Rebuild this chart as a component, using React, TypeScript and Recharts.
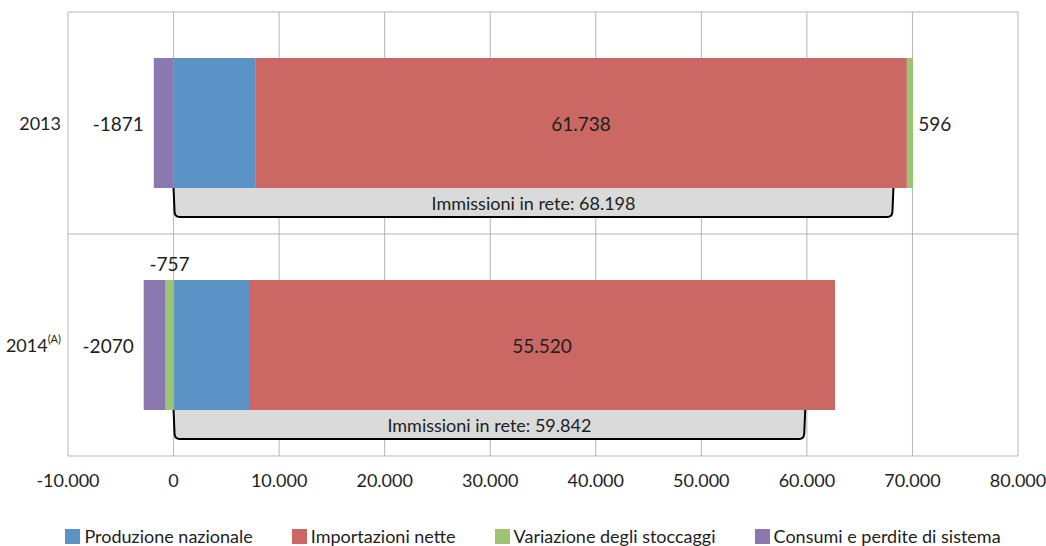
import { BarChart, Bar, XAxis, YAxis, CartesianGrid, LabelList } from "recharts";

// Bilancio gas: valori in milioni di m3
const categories = ["2013", "2014"];
const categoryNotes = ["", "(A)"];
const produzione = [7735, 7149];
const importazioni = [61738, 55520];
const stoccaggi = [596, -757];
const consumi = [-1871, -2070];
const immissioni = [68198, 59842];
const xTicks = [-10000, 0, 10000, 20000, 30000, 40000, 50000, 60000, 70000, 80000];

const series = [
    { key: "produzione", name: "Produzione nazionale", color: "#5b93c6" },
    { key: "importazioni", name: "Importazioni nette", color: "#cb6863" },
    { key: "stoccaggi", name: "Variazione degli stoccaggi", color: "#9cc474" },
    { key: "consumi", name: "Consumi e perdite di sistema", color: "#8b78b0" },
];

const FONT = "Lato, 'Open Sans', sans-serif";
const TEXT = "#1e1e1e";

const fmt = (n: number) => {
    const s = Math.abs(n).toString().replace(/\B(?=(\d{3})+(?!\d))/g, ".");
    return n < 0 ? "-" + s : s;
};

const data = categories.map((year, i) => ({
    year,
    note: categoryNotes[i],
    produzione: produzione[i],
    importazioni: importazioni[i],
    stoccaggi: stoccaggi[i],
    consumi: consumi[i],
}));

// bar rect + the "Immissioni in rete" bracket hanging below it
const ProduzioneShape = (props: any) => {
    const { x, y, width, height, index, fill } = props;
    const pxPerUnit = width / produzione[index];
    const x1 = x + immissioni[index] * pxPerUnit;
    const top = y + height;
    const bottom = top + 29;
    const d = `M${x} ${top} L${x + 1} ${bottom - 5} Q${x + 1.5} ${bottom} ${x + 6} ${bottom} L${x1 - 6} ${bottom} Q${x1 - 1.5} ${bottom} ${x1 - 1} ${bottom - 5} L${x1} ${top}`;
    return (
        <g>
            <rect x={x} y={y} width={width} height={height} fill={fill} />
            <path d={d + " Z"} fill="#d9dad9" stroke="none" />
            <path d={d} fill="none" stroke="#000" strokeWidth={2} />
            <text x={(x + x1) / 2} y={top + 15} textAnchor="middle" dominantBaseline="central"
                fontFamily={FONT} fontSize={18} fill={TEXT}>
                Immissioni in rete: {fmt(immissioni[index])}
            </text>
        </g>
    );
};

const makeLabel = (values: number[], pos: string[], dot: boolean) => (p: any) => {
    const vb = p.viewBox || p;
    const x = vb.x ?? p.x;
    const y = vb.y ?? p.y;
    const w = vb.width ?? p.width;
    const h = vb.height ?? p.height;
    const i = p.index;
    if (i == null || values[i] == null) return null;
    const left = Math.min(x, x + w);
    const right = Math.max(x, x + w);
    const cy = y + h / 2;
    const txt = dot ? fmt(values[i]) : String(values[i]);
    const where = pos[i];
    let tx = (left + right) / 2, ty = cy, anchor = "middle";
    if (where === "left") { tx = left - 10; anchor = "end"; }
    if (where === "right") { tx = right + 5; anchor = "start"; }
    if (where === "top") { ty = y - 17; }
    return (
        <text x={tx} y={ty} textAnchor={anchor} dominantBaseline="central"
            fontFamily={FONT} fontSize={19} fill={TEXT}>{txt}</text>
    );
};

const YearTick = (props: any) => {
    const { x, y, payload, index } = props;
    return (
        <text x={x + 1} y={y} textAnchor="end" dominantBaseline="central" fontFamily={FONT} fontSize={18} fill={TEXT}>
            {payload.value}
            {categoryNotes[index] ? <tspan fontSize={11} dy={-7}>{categoryNotes[index]}</tspan> : null}
        </text>
    );
};

const App = () => {
    return (
        <div style={{ position: "absolute", left: 0, top: 0, width: 1046, height: 546, background: "#fff" }}>
            <BarChart width={1046} height={546} data={data} layout="vertical" stackOffset="sign"
                barSize={130} margin={{ top: 12, right: 28, left: 8, bottom: 50 }}>
                <CartesianGrid stroke="#b5b5b5"
                    horizontalCoordinatesGenerator={({ offset }: any) => [offset.top, offset.top + offset.height / 2, offset.top + offset.height]} />
                <XAxis type="number" domain={[-10000, 80000]} ticks={xTicks} tickFormatter={fmt}
                    axisLine={false} tickLine={false} tickMargin={12} height={40}
                    tick={{ fontFamily: FONT, fontSize: 18, fill: TEXT }} />
                <YAxis type="category" dataKey="year" width={60} axisLine={false} tickLine={false} tick={<YearTick />} />
                <Bar dataKey="produzione" stackId="a" fill={series[0].color} isAnimationActive={false} shape={<ProduzioneShape />} />
                <Bar dataKey="importazioni" stackId="a" fill={series[1].color} isAnimationActive={false}>
                    <LabelList content={makeLabel(importazioni, ["center", "center"], true)} />
                </Bar>
                <Bar dataKey="stoccaggi" stackId="a" fill={series[2].color} isAnimationActive={false}>
                    <LabelList content={makeLabel(stoccaggi, ["right", "top"], false)} />
                </Bar>
                <Bar dataKey="consumi" stackId="a" fill={series[3].color} isAnimationActive={false}>
                    <LabelList content={makeLabel(consumi, ["left", "left"], false)} />
                </Bar>
            </BarChart>
            <div style={{ position: "absolute", top: 525, left: 20, width: 1026, display: "flex", justifyContent: "center", gap: 39, fontFamily: FONT, fontSize: 18, color: TEXT }}>
                {series.map((s) => (
                    <div key={s.key} style={{ display: "flex", alignItems: "center" }}>
                        <span style={{ width: 15, height: 15, background: s.color, marginRight: 4, display: "inline-block" }} />
                        <span>{s.name}</span>
                    </div>
                ))}
            </div>
        </div>
    );
};

export default App;
